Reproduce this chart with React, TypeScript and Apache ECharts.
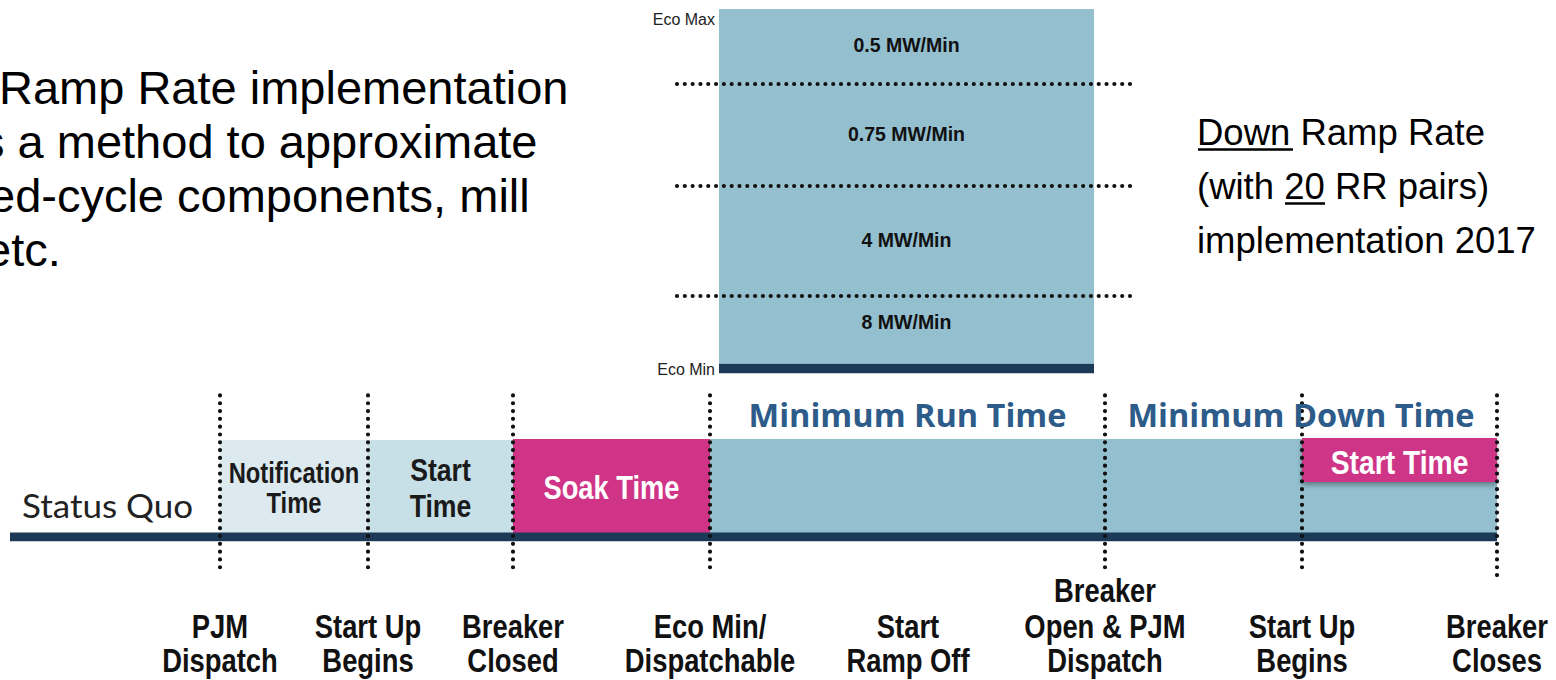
import React, { useEffect, useRef } from 'react';
import * as echarts from 'echarts';

// ---------- Ramp-rate panel data ----------
const rampRates = ['8 MW/Min', '4 MW/Min', '0.75 MW/Min', '0.5 MW/Min'];
const rampShares = [19, 31, 29, 21]; // % of the Eco Min -> Eco Max range, bottom to top
const ecoMinBand = -2.8; // thickness of the Eco Min bar below the range
const rampAxisLabels = ['Eco Min', 'Eco Max'];

// ---------- Timeline data ----------
const milestonePos = [220, 368, 513, 710, 908, 1105, 1302, 1497];
const milestoneLabels = [
  'PJM\nDispatch',
  'Start Up\nBegins',
  'Breaker\nClosed',
  'Eco Min/\nDispatchable',
  'Start\nRamp Off',
  'Breaker\nOpen & PJM\nDispatch',
  'Start Up\nBegins',
  'Breaker\nCloses',
];
const milestoneDotted = [true, true, true, true, false, true, true, true];
const milestoneDotBottom = [-33, -33, -33, -35, 0, -32, -36, -40];

const phaseLabels = ['Notification\nTime', 'Start\nTime', 'Soak Time', '', 'Start Time'];
const phaseStart = [220, 368, 513, 710, 1302];
const phaseEnd = [368, 513, 710, 1497, 1497];
const phaseLow = [0, 0, 0, 0, 55.5];
const phaseHigh = [98, 98, 99, 99, 100];

const periodLabels = ['Minimum Run Time', 'Minimum Down Time'];
const periodStart = [710, 1105];
const periodEnd = [1105, 1497];

const statusQuoLabel = 'Status Quo';
const timelineStart = 10;
const timelineEnd = 1497;

const introLines = [
  'Ramp Rate implementation',
  's a method to approximate',
  'ed-cycle components, mill',
  'etc.',
];
const noteLines = ['Down Ramp Rate', '(with 20 RR pairs)', 'implementation 2017'];

// ---------- Styles ----------
const SANS = '"Liberation Sans", Arial, Helvetica, sans-serif';
const DARK = '#1c3a57';
const TEAL = '#93bfcf';
const MAGENTA = '#cf3487';
const phaseColors = ['#dce9ef', '#c7dfe6', MAGENTA, TEAL, MAGENTA];
const phaseTextColors = ['#1a1a1a', '#1a1a1a', '#ffffff', '#ffffff', '#ffffff'];
const phaseFontSize = [29, 31, 32.5, 32, 32.5];
const phaseLineHeight = [30, 36, 36, 36, 36];
const phaseScaleX = [0.82, 0.86, 0.84, 0.84, 0.87];
const DOT_DASH = [0.01, 7.8];
const DOT_WIDTH = 4.2;

export default function App() {
  const ref = useRef<HTMLDivElement>(null);

  useEffect(() => {
    if (!ref.current) return;
    const chart = echarts.init(ref.current, undefined, { renderer: 'svg' });

    const boundaries: number[] = [];
    let acc = 0;
    rampShares.forEach((v, i) => {
      acc += v;
      if (i < rampShares.length - 1) boundaries.push(acc);
    });

    const rampSeries: any[] = [
      {
        type: 'bar',
        name: 'Eco Min line',
        stack: 'ramp',
        xAxisIndex: 0,
        yAxisIndex: 0,
        data: [ecoMinBand],
        barWidth: 375,
        itemStyle: { color: DARK },
        silent: true,
      },
      ...rampShares.map((v, i) => ({
        type: 'bar',
        name: rampRates[i],
        stack: 'ramp',
        xAxisIndex: 0,
        yAxisIndex: 0,
        data: [v],
        barWidth: 375,
        itemStyle: { color: TEAL },
        silent: true,
        label: {
          show: true,
          position: 'inside',
          formatter: rampRates[i],
          fontSize: 19.5,
          fontWeight: 'bold',
          fontFamily: SANS,
          color: '#111',
          offset: i === 0 ? [0, -8] : [0, -1],
        },
        markLine:
          i === rampShares.length - 1
            ? {
                silent: true,
                symbol: ['none', 'none'],
                label: { show: false },
                lineStyle: { color: '#111', width: DOT_WIDTH, type: DOT_DASH, cap: 'round' },
                data: boundaries.map((b) => ({ yAxis: b })),
              }
            : undefined,
      })),
    ];

    const phaseSeries = {
      type: 'custom',
      name: 'phases',
      xAxisIndex: 1,
      yAxisIndex: 2,
      clip: false,
      silent: true,
      data: phaseStart.map((s, i) => [s, phaseEnd[i], phaseLow[i], phaseHigh[i]]),
      renderItem: (params: any, api: any) => {
        const i = params.dataIndex;
        const p0 = api.coord([api.value(0), api.value(3)]);
        const p1 = api.coord([api.value(1), api.value(2)]);
        const children: any[] = [
          {
            type: 'rect',
            shape: { x: p0[0], y: p0[1], width: p1[0] - p0[0], height: p1[1] - p0[1] },
            style:
              i === 4
                ? { fill: phaseColors[i], shadowBlur: 5, shadowOffsetY: 3, shadowColor: 'rgba(0,0,0,0.35)' }
                : { fill: phaseColors[i] },
          },
        ];
        if (phaseLabels[i]) {
          const bottomY = i === 4 ? p1[1] : p1[1] - 4;
          children.push({
            type: 'text',
            x: (p0[0] + p1[0]) / 2,
            y: (p0[1] + bottomY) / 2 + 2,
            scaleX: phaseScaleX[i],
            style: {
              text: phaseLabels[i],
              x: 0,
              y: 0,
              align: 'center',
              verticalAlign: 'middle',
              fontSize: phaseFontSize[i],
              lineHeight: phaseLineHeight[i],
              fontWeight: 'bold',
              fontFamily: SANS,
              fill: phaseTextColors[i],
            },
          });
        }
        return { type: 'group', children };
      },
    };

    const baselineSeries = {
      type: 'line',
      name: 'timeline',
      xAxisIndex: 1,
      yAxisIndex: 2,
      silent: true,
      symbol: 'none',
      data: [
        [timelineStart, 0],
        [timelineEnd, 0],
      ],
      lineStyle: { color: DARK, width: 9, cap: 'butt' },
      z: 3,
    };

    const milestoneSeries = {
      type: 'custom',
      name: 'milestones',
      xAxisIndex: 1,
      yAxisIndex: 2,
      clip: false,
      silent: true,
      z: 4,
      data: milestonePos.map((p) => [p, 0]),
      renderItem: (params: any, api: any) => {
        const i = params.dataIndex;
        const x = api.value(0);
        const top = api.coord([x, 143]);
        const bot = api.coord([x, milestoneDotBottom[i]]);
        const lab = api.coord([x, -143]);
        const children: any[] = [];
        if (milestoneDotted[i]) {
          children.push({
            type: 'line',
            shape: { x1: top[0], y1: top[1], x2: bot[0], y2: bot[1] },
            style: { stroke: '#111', lineWidth: DOT_WIDTH, lineDash: DOT_DASH, lineCap: 'round' },
          });
        }
        children.push({
          type: 'text',
          x: lab[0],
          y: lab[1],
          scaleX: 0.83,
          style: {
            text: milestoneLabels[i],
            x: 0,
            y: 0,
            align: 'center',
            verticalAlign: 'bottom',
            fontSize: 33,
            lineHeight: 35,
            fontWeight: 'bold',
            fontFamily: SANS,
            fill: '#111',
          },
        });
        return { type: 'group', children };
      },
    };

    const periodSeries = {
      type: 'custom',
      name: 'periods',
      xAxisIndex: 1,
      yAxisIndex: 2,
      clip: false,
      silent: true,
      z: 5,
      data: periodStart.map((s, i) => [s, periodEnd[i]]),
      renderItem: (params: any, api: any) => {
        const i = params.dataIndex;
        const c = api.coord([(api.value(0) + api.value(1)) / 2, 124]);
        return {
          type: 'text',
          x: c[0],
          y: c[1],
          style: {
            text: periodLabels[i],
            align: 'center',
            verticalAlign: 'middle',
            fontSize: 32.5,
            fontWeight: 'bold',
            fontFamily: '"Open Sans", "Liberation Sans", sans-serif',
            fill: '#2d5b8a',
          },
        };
      },
    };

    const statusSeries = {
      type: 'custom',
      name: 'status',
      xAxisIndex: 1,
      yAxisIndex: 2,
      clip: false,
      silent: true,
      data: [[timelineStart, 0]],
      renderItem: (params: any, api: any) => {
        const c = api.coord([api.value(0), 32]);
        return {
          type: 'text',
          x: c[0] + 12,
          y: c[1],
          scaleX: 1.06,
          style: {
            text: statusQuoLabel,
            x: 0,
            y: 0,
            align: 'left',
            verticalAlign: 'middle',
            fontSize: 33,
            fontFamily: 'Lato, "Liberation Sans", sans-serif',
            fill: '#222',
          },
        };
      },
    };

    const graphic: any[] = [
      ...introLines.map((t, i) => ({
        type: 'text',
        x: [-1, -19, -11, -15][i],
        y: 87.5 + i * 54,
        silent: true,
        style: {
          text: t,
          fontSize: 47,
          fontFamily: SANS,
          fill: '#000',
          align: 'left',
          verticalAlign: 'middle',
        },
      })),
      ...noteLines.map((t, i) => ({
        type: 'text',
        x: 1197,
        y: 132 + i * 54,
        silent: true,
        style: {
          text: t,
          fontSize: 36.5,
          fontFamily: SANS,
          fill: '#000',
          align: 'left',
          verticalAlign: 'middle',
        },
      })),
      {
        type: 'line',
        silent: true,
        shape: { x1: 1198, y1: 149.5, x2: 1293, y2: 149.5 },
        style: { stroke: '#000', lineWidth: 2.4 },
      },
      {
        type: 'line',
        silent: true,
        shape: { x1: 1285, y1: 203.5, x2: 1325, y2: 203.5 },
        style: { stroke: '#000', lineWidth: 2.4 },
      },
    ];

    chart.setOption({
      animation: false,
      backgroundColor: '#ffffff',
      grid: [
        { left: 677, top: 9, width: 459, height: 364.3 },
        { left: 0, top: 438, width: 1556, height: 99 },
      ],
      xAxis: [
        { type: 'category', gridIndex: 0, data: ['ramp'], show: false },
        { type: 'value', gridIndex: 1, min: 0, max: 1556, show: false },
      ],
      yAxis: [
        { type: 'value', gridIndex: 0, min: ecoMinBand, max: 100, show: false },
        {
          type: 'value',
          gridIndex: 0,
          min: -0.01232,
          max: 1.0315,
          position: 'left',
          axisLine: { show: false },
          axisTick: { show: false },
          splitLine: { show: false },
          axisLabel: {
            show: true,
            margin: -38,
            fontSize: 16,
            color: '#222',
            fontFamily: SANS,
            formatter: (v: number) =>
              Math.abs(v - 1) < 1e-6 ? rampAxisLabels[1] : Math.abs(v) < 1e-6 ? rampAxisLabels[0] : '',
          },
        },
        { type: 'value', gridIndex: 1, min: 0, max: 100, show: false },
      ],
      graphic,
      series: [...rampSeries, phaseSeries, baselineSeries, milestoneSeries, periodSeries, statusSeries],
    });

    return () => chart.dispose();
  }, []);

  return (
    <div
      ref={ref}
      style={{ position: 'fixed', left: 0, top: 0, width: '1556px', height: '680px', background: '#fff' }}
    />
  );
}
